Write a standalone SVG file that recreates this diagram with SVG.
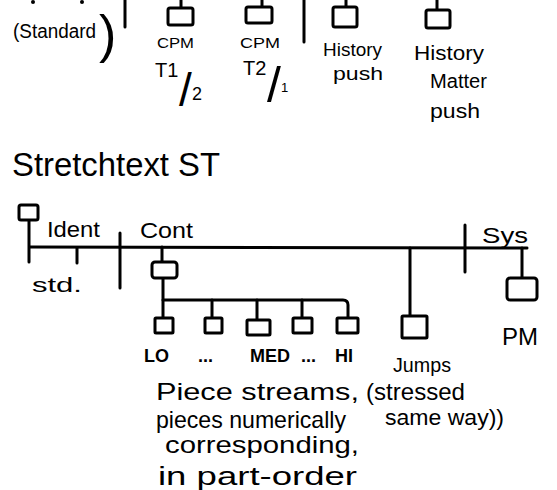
<svg xmlns="http://www.w3.org/2000/svg" width="557" height="490" viewBox="0 0 557 490">
<style>
.ln{stroke:#000;stroke-width:3;fill:none;stroke-linecap:round;stroke-linejoin:round}
.bx{fill:#fff;stroke:#000;stroke-width:3}
.t{font-family:"Liberation Sans",Arial,sans-serif;fill:#000}
</style>
<rect width="557" height="490" fill="#fff"/>
<!-- top fragments -->
<circle cx="33" cy="2" r="2" fill="#000"/>
<circle cx="82" cy="2" r="2" fill="#000"/>
<g id="connectors">
<line class="ln" x1="125" y1="0" x2="125" y2="27"/>
<line class="ln" x1="304" y1="0" x2="304" y2="42"/>
<line class="ln" x1="181" y1="0" x2="181" y2="8"/>
<line class="ln" x1="262" y1="0" x2="262" y2="7"/>
<line class="ln" x1="346" y1="0" x2="346" y2="7"/>
<line class="ln" x1="437" y1="0" x2="437" y2="10"/>
<!-- stretchtext bus -->
<line class="ln" x1="30" y1="247" x2="527" y2="248"/>
<line class="ln" x1="29" y1="220" x2="29" y2="262"/>
<line class="ln" x1="77" y1="248" x2="77" y2="263"/>
<line class="ln" x1="120" y1="233" x2="120" y2="288"/>
<line class="ln" x1="162" y1="247" x2="162" y2="262"/>
<line class="ln" x1="163" y1="278" x2="163" y2="318"/>
<path class="ln" d="M163,300 H343 Q348,300 348,305 V318"/>
<line class="ln" x1="212" y1="300" x2="212" y2="318"/>
<line class="ln" x1="257" y1="300" x2="257" y2="320"/>
<line class="ln" x1="302" y1="300" x2="302" y2="318"/>
<line class="ln" x1="410" y1="248" x2="410" y2="316"/>
<line class="ln" x1="465" y1="225" x2="465" y2="272"/>
<line class="ln" x1="522" y1="248" x2="522" y2="278"/>
</g>
<g id="standard">
<text class="t" x="13" y="38" font-size="20" textLength="83" lengthAdjust="spacingAndGlyphs">(Standard</text>
<text class="t" x="99" y="52" font-size="52" font-weight="300">)</text>
</g>
<g id="cpm12">
<rect class="bx" x="168" y="8" width="25" height="17" rx="2"/>
<text class="t" x="157" y="48" font-size="15" textLength="37" lengthAdjust="spacingAndGlyphs">CPM</text>
<text class="t" x="155" y="77" font-size="20">T1</text>
<text class="t" x="179" y="106" font-size="46">/</text>
<text class="t" x="192" y="100" font-size="18">2</text>
</g>
<g id="cpm21">
<rect class="bx" x="246" y="7" width="26" height="16" rx="2"/>
<text class="t" x="240" y="48" font-size="15" textLength="40" lengthAdjust="spacingAndGlyphs">CPM</text>
<text class="t" x="243" y="75" font-size="20">T2</text>
<text class="t" x="267" y="102" font-size="50">/</text>
<text class="t" x="281" y="92" font-size="13">1</text>
</g>
<g id="historypush">
<rect class="bx" x="333" y="7" width="24" height="20" rx="2"/>
<text class="t" x="323" y="56" font-size="19" textLength="59" lengthAdjust="spacingAndGlyphs">History</text>
<text class="t" x="333" y="80" font-size="19" textLength="50" lengthAdjust="spacingAndGlyphs">push</text>
</g>
<g id="historymatterpush">
<rect class="bx" x="426" y="10" width="24" height="18" rx="2"/>
<text class="t" x="414" y="60" font-size="20" textLength="70" lengthAdjust="spacingAndGlyphs">History</text>
<text class="t" x="430" y="88" font-size="20" textLength="57" lengthAdjust="spacingAndGlyphs">Matter</text>
<text class="t" x="430" y="118" font-size="20" textLength="50" lengthAdjust="spacingAndGlyphs">push</text>
</g>
<text class="t" x="12" y="176" font-size="34" textLength="208" lengthAdjust="spacingAndGlyphs">Stretchtext ST</text>
<g id="ident">
<rect class="bx" x="19" y="205" width="19" height="15" rx="2"/>
<text class="t" x="47" y="237" font-size="22" textLength="53" lengthAdjust="spacingAndGlyphs">Ident</text>
<text class="t" x="32" y="292" font-size="20" textLength="50" lengthAdjust="spacingAndGlyphs">std.</text>
</g>
<g id="cont">
<text class="t" x="140" y="238" font-size="22" textLength="53" lengthAdjust="spacingAndGlyphs">Cont</text>
<rect class="bx" x="152" y="262" width="25" height="16" rx="3"/>
</g>
<g id="pieces">
<rect class="bx" x="155" y="318" width="18" height="15" rx="1"/>
<rect class="bx" x="205" y="318" width="17" height="15" rx="1"/>
<rect class="bx" x="247" y="320" width="23" height="15" rx="1"/>
<rect class="bx" x="293" y="318" width="19" height="15" rx="1"/>
<rect class="bx" x="337" y="318" width="21" height="15" rx="1"/>
<text class="t" font-size="18" font-weight="bold" y="362"><tspan x="144">LO</tspan><tspan x="198">...</tspan><tspan x="250">MED</tspan><tspan x="301">...</tspan><tspan x="335">HI</tspan></text>
<text class="t" x="156" y="400" font-size="24" textLength="203" lengthAdjust="spacingAndGlyphs">Piece streams,</text>
<text class="t" x="156" y="428" font-size="24" textLength="190" lengthAdjust="spacingAndGlyphs">pieces numerically</text>
<text class="t" x="165" y="453" font-size="24" textLength="194" lengthAdjust="spacingAndGlyphs">corresponding,</text>
<text class="t" x="158" y="485" font-size="26" textLength="199" lengthAdjust="spacingAndGlyphs">in part-order</text>
</g>
<g id="jumps">
<rect class="bx" x="402" y="316" width="25" height="22" rx="1"/>
<text class="t" x="393" y="372" font-size="20" textLength="58" lengthAdjust="spacingAndGlyphs">Jumps</text>
<text class="t" x="366" y="400" font-size="24" textLength="99" lengthAdjust="spacingAndGlyphs">(stressed</text>
<text class="t" x="385" y="425" font-size="22" textLength="119" lengthAdjust="spacingAndGlyphs">same way))</text>
</g>
<g id="sys">
<text class="t" x="482" y="243" font-size="22" textLength="46" lengthAdjust="spacingAndGlyphs">Sys</text>
</g>
<g id="pm">
<rect class="bx" x="507" y="278" width="30" height="22" rx="3"/>
<text class="t" x="502" y="345" font-size="24" textLength="36" lengthAdjust="spacingAndGlyphs">PM</text>
</g>
</svg>
